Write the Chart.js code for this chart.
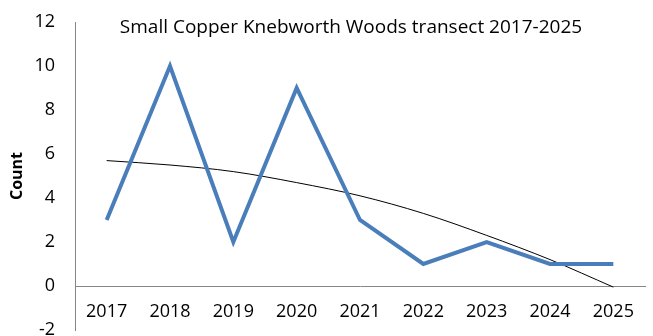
<!DOCTYPE html>
<html>
<head>
<meta charset="utf-8">
<script src="https://cdn.jsdelivr.net/npm/chart.js@4/dist/chart.umd.min.js"></script>
<style>
  html, body { margin: 0; padding: 0; background: #fff; }
  #wrap { width: 653px; height: 336px; }
</style>
</head>
<body>
<div id="wrap"><canvas id="chart"></canvas></div>
<script>
// données
const years = ["2017", "2018", "2019", "2020", "2021", "2022", "2023", "2024", "2025"];
const counts = [3, 10, 2, 9, 3, 1, 2, 1, 1];
// courbe de tendance (polynomiale)
const trend = [5.7, 5.5, 5.2, 4.7, 4.1, 3.3, 2.3, 1.2, -0.05];
const yTicks = [-2, 0, 2, 4, 6, 8, 10, 12];
const chartTitle = 'Small Copper Knebworth Woods transect 2017-2025';

const font = "'Open Sans', 'Noto Sans', sans-serif";

// titre dessiné dans la zone du graphique (comme dans Excel)
const innerTitle = {
  id: 'innerTitle',
  afterDraw(chart) {
    const { ctx, chartArea } = chart;
    ctx.save();
    ctx.font = '19px ' + font;
    ctx.fillStyle = '#000';
    ctx.textAlign = 'center';
    ctx.textBaseline = 'middle';
    ctx.fillText(chartTitle, (chartArea.left + chartArea.right) / 2 - 9, chartArea.top + 6);
    ctx.restore();
  }
};

const myChart = new Chart(document.getElementById('chart'), {
  type: 'line',
  data: {
    labels: years,
    datasets: [
      {
        label: 'Small Copper',
        data: counts,
        borderColor: '#4A7EBB',
        borderWidth: 4,
        pointRadius: 0,
        tension: 0
      },
      {
        label: 'Tendance',
        data: trend,
        borderColor: '#000',
        borderWidth: 1,
        pointRadius: 0,
        cubicInterpolationMode: 'monotone'
      }
    ]
  },
  plugins: [innerTitle],
  options: {
    responsive: true,
    maintainAspectRatio: false,
    animation: false,
    layout: { padding: { left: 0, right: 8, top: 22, bottom: 6 } },
    plugins: {
      legend: { display: false },
      tooltip: { enabled: false },
      title: { display: false }
    },
    scales: {
      x: {
        position: { y: 0 },
        offset: true,
        afterFit: (scale) => { scale.height = 0; },
        grid: { display: false, drawTicks: false },
        border: { color: '#868686', width: 1 },
        ticks: { color: '#000', font: { family: font, size: 18 }, padding: 15, maxRotation: 0 }
      },
      y: {
        min: -2,
        max: 12,
        afterBuildTicks: (scale) => { scale.ticks = yTicks.map(v => ({ value: v })); },
        afterFit: (scale) => {
          scale.width = 75;
          scale.paddingTop = 0;
          scale.paddingBottom = 0;
        },
        grid: { display: false, drawTicks: false },
        border: { color: '#868686', width: 1 },
        ticks: { color: '#000', font: { family: font, size: 18 }, padding: 20 },
        title: {
          display: true,
          text: 'Count',
          color: '#000',
          font: { family: font, size: 16, weight: 'bold' },
          padding: { top: 8, bottom: 7 }
        }
      }
    }
  }
});
</script>
</body>
</html>
